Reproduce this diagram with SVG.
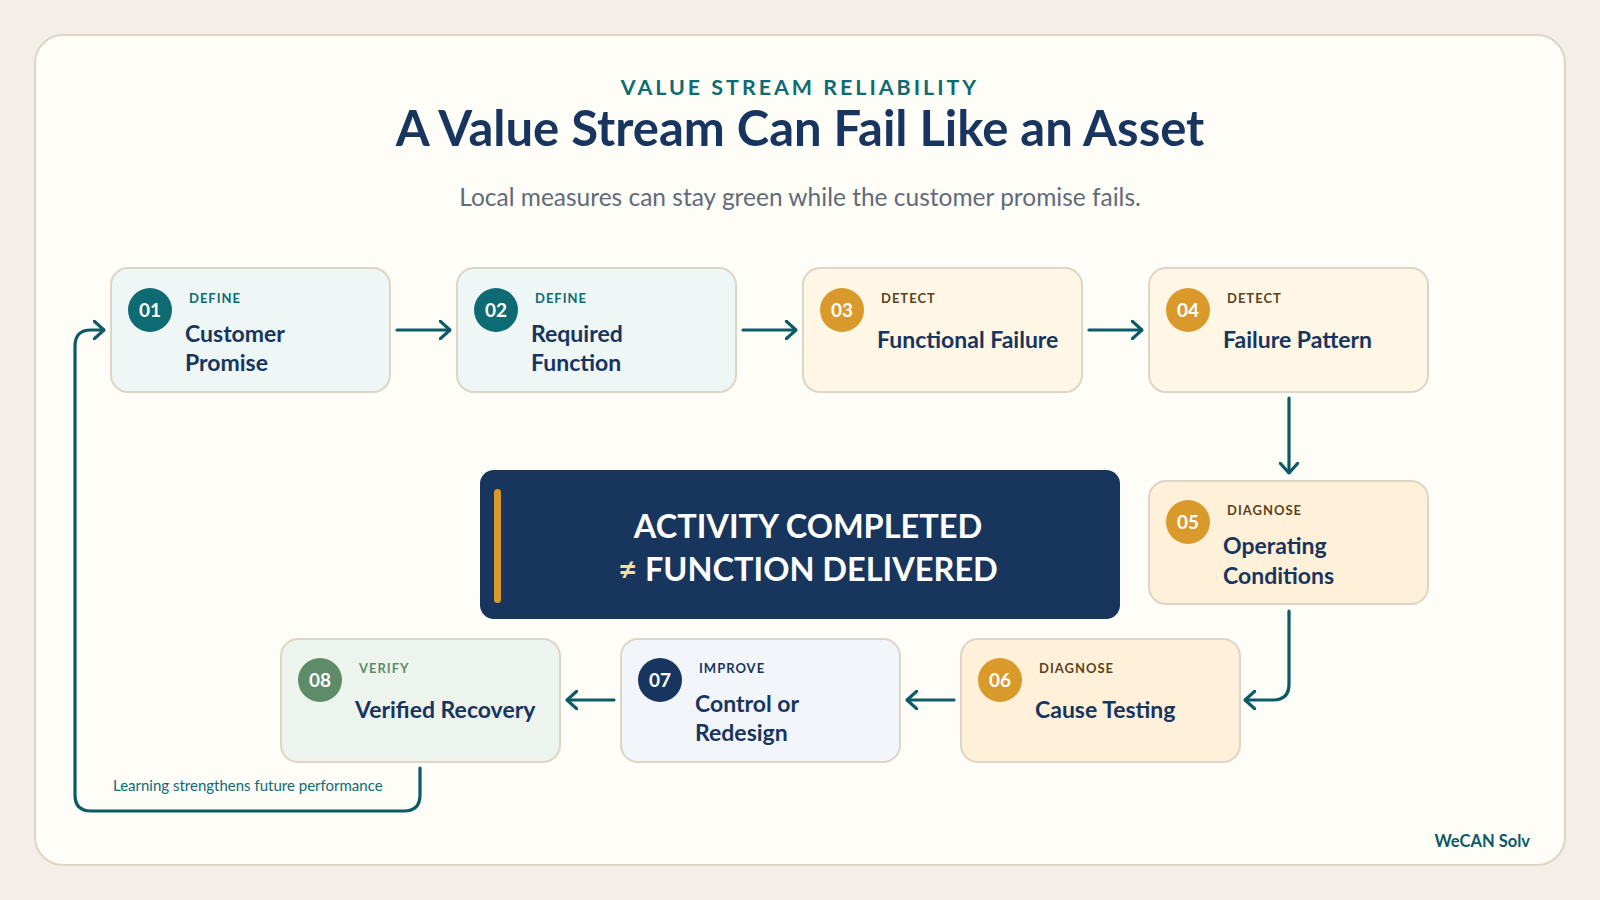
<svg xmlns="http://www.w3.org/2000/svg" width="1600" height="900" viewBox="0 0 1600 900">
<defs>
<style>
.bg{fill:#f3efe8}
.card{fill:#fffdf7;stroke:#ddd5c8;stroke-width:2}
.node{stroke:#ddd5c8;stroke-width:2}
.f-define{fill:#eef6f6}.f-detect{fill:#fff7e6}.f-diag{fill:#fff1d9}.f-improve{fill:#f2f6fb}.f-verify{fill:#edf4ee}
.c-teal{fill:#0e6b73}.c-gold{fill:#d99a2b}.c-navy{fill:#17355e}.c-green{fill:#5e8c68}
.num{font-family:Lato,"Noto Sans",sans-serif;font-weight:700;font-size:19px;fill:#fff;text-anchor:middle}
.lbl{font-family:Lato,"Noto Sans",sans-serif;font-weight:700;font-size:13px;letter-spacing:1px}
.l-teal{fill:#0e6b73}.l-brown{fill:#5a4320}.l-navy{fill:#17355e}.l-green{fill:#5e8c68}
.ttl{font-family:Lato,"Noto Sans",sans-serif;font-weight:700;font-size:23px;fill:#17355e}
.conn{fill:none;stroke:#0b5a66;stroke-width:3.2;stroke-linecap:round;stroke-linejoin:round}
</style>
<marker id="arr" viewBox="0 0 12 20" refX="11" refY="10" markerWidth="12" markerHeight="20" markerUnits="userSpaceOnUse" orient="auto">
<path d="M1,1 L11,10 L1,19" fill="none" stroke="#0b5a66" stroke-width="3.2" stroke-linecap="round" stroke-linejoin="round"/>
</marker>
</defs>
<rect class="bg" x="0" y="0" width="1600" height="900"/>
<rect class="card" x="35" y="35" width="1530" height="830" rx="28"/>

<g id="header">
<text x="800" y="95" text-anchor="middle" font-family="Lato,'Noto Sans',sans-serif" font-weight="700" font-size="21.4" letter-spacing="3" fill="#0e6b73">VALUE STREAM RELIABILITY</text>
<text x="800" y="146" text-anchor="middle" font-family="Lato,'Noto Sans',sans-serif" font-weight="700" font-size="49" fill="#17355e">A Value Stream Can Fail Like an Asset</text>
<text x="800" y="206" text-anchor="middle" font-family="Lato,'Noto Sans',sans-serif" font-size="24.5" fill="#5f6b7a">Local measures can stay green while the customer promise fails.</text>
</g>

<g id="connectors">
<path class="conn" marker-end="url(#arr)" d="M397,330 L450,330"/>
<path class="conn" marker-end="url(#arr)" d="M743,330 L796,330"/>
<path class="conn" marker-end="url(#arr)" d="M1089,330 L1142,330"/>
<path class="conn" marker-end="url(#arr)" d="M1289,398 L1289,473"/>
<path class="conn" marker-end="url(#arr)" d="M1289,611 L1289,684 Q1289,700 1273,700 L1245,700"/>
<path class="conn" marker-end="url(#arr)" d="M954,700 L907,700"/>
<path class="conn" marker-end="url(#arr)" d="M614,700 L567,700"/>
<path class="conn" marker-end="url(#arr)" d="M420,768 L420,795 Q420,811 404,811 L91,811 Q75,811 75,795 L75,346 Q75,330 91,330 L104,330"/>
<text x="113" y="791" font-family="Lato,'Noto Sans',sans-serif" font-size="15" fill="#0e6b73">Learning strengthens future performance</text>
</g>

<g id="node01">
<rect class="node f-define" x="111" y="268" width="279" height="124" rx="17"/>
<circle class="c-teal" cx="150" cy="310" r="22"/>
<text class="num" x="150" y="317">01</text>
<text class="lbl l-teal" x="189" y="303">DEFINE</text>
<text class="ttl" x="185" y="342">Customer</text>
<text class="ttl" x="185" y="371">Promise</text>
</g>
<g id="node02">
<rect class="node f-define" x="457" y="268" width="279" height="124" rx="17"/>
<circle class="c-teal" cx="496" cy="310" r="22"/>
<text class="num" x="496" y="317">02</text>
<text class="lbl l-teal" x="535" y="303">DEFINE</text>
<text class="ttl" x="531" y="342">Required</text>
<text class="ttl" x="531" y="371">Function</text>
</g>
<g id="node03">
<rect class="node f-detect" x="803" y="268" width="279" height="124" rx="17"/>
<circle class="c-gold" cx="842" cy="310" r="22"/>
<text class="num" x="842" y="317">03</text>
<text class="lbl l-brown" x="881" y="303">DETECT</text>
<text class="ttl" x="877" y="348">Functional Failure</text>
</g>
<g id="node04">
<rect class="node f-detect" x="1149" y="268" width="279" height="124" rx="17"/>
<circle class="c-gold" cx="1188" cy="310" r="22"/>
<text class="num" x="1188" y="317">04</text>
<text class="lbl l-brown" x="1227" y="303">DETECT</text>
<text class="ttl" x="1223" y="348">Failure Pattern</text>
</g>
<g id="node05">
<rect class="node f-diag" x="1149" y="481" width="279" height="123" rx="17"/>
<circle class="c-gold" cx="1188" cy="522" r="22"/>
<text class="num" x="1188" y="529">05</text>
<text class="lbl l-brown" x="1227" y="515">DIAGNOSE</text>
<text class="ttl" x="1223" y="554">Operating</text>
<text class="ttl" x="1223" y="584">Conditions</text>
</g>
<g id="node06">
<rect class="node f-diag" x="961" y="639" width="279" height="123" rx="17"/>
<circle class="c-gold" cx="1000" cy="680" r="22"/>
<text class="num" x="1000" y="687">06</text>
<text class="lbl l-brown" x="1039" y="673">DIAGNOSE</text>
<text class="ttl" x="1035" y="718">Cause Testing</text>
</g>
<g id="node07">
<rect class="node f-improve" x="621" y="639" width="279" height="123" rx="17"/>
<circle class="c-navy" cx="660" cy="680" r="22"/>
<text class="num" x="660" y="687">07</text>
<text class="lbl l-navy" x="699" y="673">IMPROVE</text>
<text class="ttl" x="695" y="712">Control or</text>
<text class="ttl" x="695" y="741">Redesign</text>
</g>
<g id="node08">
<rect class="node f-verify" x="281" y="639" width="279" height="123" rx="17"/>
<circle class="c-green" cx="320" cy="680" r="22"/>
<text class="num" x="320" y="687">08</text>
<text class="lbl l-green" x="359" y="673">VERIFY</text>
<text class="ttl" x="355" y="718">Verified Recovery</text>
</g>

<g id="callout">
<rect x="480" y="470" width="640" height="149" rx="14" fill="#18365d"/>
<rect x="494" y="489" width="7" height="114" rx="3.5" fill="#d99a2b"/>
<text x="808" y="538" text-anchor="middle" font-family="Lato,'Noto Sans',sans-serif" font-weight="700" font-size="32.5" fill="#ffffff">ACTIVITY COMPLETED</text>
<text x="808" y="581" text-anchor="middle" font-family="Lato,'Noto Sans',sans-serif" font-weight="700" font-size="32.5" fill="#ffffff"><tspan fill="#f5dfa0">≠</tspan> FUNCTION DELIVERED</text>
</g>

<g id="brand">
<text x="1530" y="847" text-anchor="end" font-family="Lato,'Noto Sans',sans-serif" font-weight="700" font-size="16.5" fill="#0b5a66">WeCAN Solv</text>
</g>
</svg>
